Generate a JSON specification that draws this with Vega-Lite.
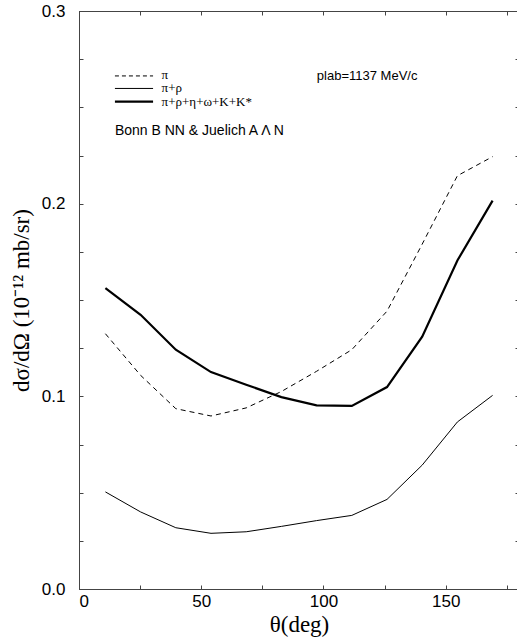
{
  "$schema": "https://vega.github.io/schema/vega-lite/v6.json",
  "width": 440,
  "height": 578,
  "autosize": {"type": "none"},
  "padding": {"left": 79, "top": 11, "right": 0, "bottom": 54},
  "background": "white",
  "config": {
    "view": {"stroke": "#444", "strokeWidth": 1},
    "axis": {"grid": false, "domainColor": "#444", "tickColor": "#444", "labelFont": "Liberation Sans", "labelColor": "black", "titleFont": "Liberation Serif", "titleFontWeight": "normal", "titleColor": "black"}
  },
  "datasets": {
    "curves": [
      {"theta": 10.8, "value": 0.1325, "series": "pi"},
      {"theta": 25.2, "value": 0.1109, "series": "pi"},
      {"theta": 39.6, "value": 0.0936, "series": "pi"},
      {"theta": 54.0, "value": 0.0898, "series": "pi"},
      {"theta": 68.4, "value": 0.0940, "series": "pi"},
      {"theta": 82.8, "value": 0.1025, "series": "pi"},
      {"theta": 97.2, "value": 0.1130, "series": "pi"},
      {"theta": 111.6, "value": 0.1242, "series": "pi"},
      {"theta": 126.0, "value": 0.1442, "series": "pi"},
      {"theta": 140.4, "value": 0.1790, "series": "pi"},
      {"theta": 154.8, "value": 0.2145, "series": "pi"},
      {"theta": 169.2, "value": 0.2244, "series": "pi"},
      {"theta": 10.8, "value": 0.0504, "series": "pirho"},
      {"theta": 25.2, "value": 0.0400, "series": "pirho"},
      {"theta": 39.6, "value": 0.0318, "series": "pirho"},
      {"theta": 54.0, "value": 0.0289, "series": "pirho"},
      {"theta": 68.4, "value": 0.0297, "series": "pirho"},
      {"theta": 82.8, "value": 0.0325, "series": "pirho"},
      {"theta": 97.2, "value": 0.0355, "series": "pirho"},
      {"theta": 111.6, "value": 0.0382, "series": "pirho"},
      {"theta": 126.0, "value": 0.0465, "series": "pirho"},
      {"theta": 140.4, "value": 0.0643, "series": "pirho"},
      {"theta": 154.8, "value": 0.0867, "series": "pirho"},
      {"theta": 169.2, "value": 0.1005, "series": "pirho"},
      {"theta": 10.8, "value": 0.1561, "series": "full"},
      {"theta": 25.2, "value": 0.1423, "series": "full"},
      {"theta": 39.6, "value": 0.1242, "series": "full"},
      {"theta": 54.0, "value": 0.1126, "series": "full"},
      {"theta": 68.4, "value": 0.1060, "series": "full"},
      {"theta": 82.8, "value": 0.0996, "series": "full"},
      {"theta": 97.2, "value": 0.0953, "series": "full"},
      {"theta": 111.6, "value": 0.0950, "series": "full"},
      {"theta": 126.0, "value": 0.1048, "series": "full"},
      {"theta": 140.4, "value": 0.1310, "series": "full"},
      {"theta": 154.8, "value": 0.1705, "series": "full"},
      {"theta": 169.2, "value": 0.2016, "series": "full"}
    ],
    "legendlines": [
      {"theta": 14.7, "value": 0.2663, "series": "pi"},
      {"theta": 30.3, "value": 0.2663, "series": "pi"},
      {"theta": 14.7, "value": 0.2598, "series": "pirho"},
      {"theta": 30.3, "value": 0.2598, "series": "pirho"},
      {"theta": 14.7, "value": 0.2530, "series": "full"},
      {"theta": 30.3, "value": 0.2530, "series": "full"}
    ],
    "legendtext": [
      {"theta": 33.8, "value": 0.2668, "label": "π"},
      {"theta": 33.8, "value": 0.2598, "label": "π+ρ"},
      {"theta": 33.8, "value": 0.2530, "label": "π+ρ+η+ω+K+K*"}
    ],
    "notes": [
      {"theta": 97.3, "value": 0.2663, "label": "plab=1137 MeV/c", "size": 13},
      {"theta": 14.7, "value": 0.2378, "label": "Bonn B NN & Juelich A Λ N", "size": 14}
    ]
  },
  "resolve": {"axis": {"x": "independent", "y": "independent"}},
  "layer": [
    {
      "data": {"name": "curves"},
      "transform": [{"filter": "datum.series == 'pi'"}],
      "mark": {"type": "line", "color": "black", "strokeWidth": 1, "strokeDash": [5, 4]},
      "encoding": {
        "x": {"field": "theta", "type": "quantitative", "scale": {"domain": [0, 180], "nice": false},
          "axis": {"orient": "bottom", "title": "θ(deg)", "titleFontSize": 23, "titlePadding": 4, "labelFontSize": 17, "labelPadding": 8, "tickSize": -4,
            "values": [0, 25, 50, 75, 100, 125, 150, 175],
            "labelExpr": "datum.value % 50 == 0 ? datum.label : ''"}},
        "y": {"field": "value", "type": "quantitative", "scale": {"domain": [0, 0.3], "nice": false},
          "axis": {"orient": "left", "title": "dσ/dΩ (10⁻¹² mb/sr)", "titleFontSize": 23, "titlePadding": 8, "labelFontSize": 17, "labelPadding": 18, "tickSize": -4,
            "values": [0, 0.025, 0.05, 0.075, 0.1, 0.125, 0.15, 0.175, 0.2, 0.225, 0.25, 0.275, 0.3],
            "labelExpr": "round(datum.value * 1000) % 100 == 0 ? format(datum.value, '.1f') : ''"}}
      }
    },
    {
      "data": {"name": "curves"},
      "transform": [{"filter": "datum.series == 'pirho'"}],
      "mark": {"type": "line", "color": "black", "strokeWidth": 1},
      "encoding": {
        "x": {"field": "theta", "type": "quantitative",
          "axis": {"orient": "top", "title": null, "labels": false, "tickSize": -4, "values": [0, 25, 50, 75, 100, 125, 150, 175]}},
        "y": {"field": "value", "type": "quantitative",
          "axis": {"orient": "right", "title": null, "labels": false, "tickSize": -4, "values": [0, 0.025, 0.05, 0.075, 0.1, 0.125, 0.15, 0.175, 0.2, 0.225, 0.25, 0.275, 0.3]}}
      }
    },
    {
      "data": {"name": "curves"},
      "transform": [{"filter": "datum.series == 'full'"}],
      "mark": {"type": "line", "color": "black", "strokeWidth": 2.2},
      "encoding": {
        "x": {"field": "theta", "type": "quantitative", "axis": null},
        "y": {"field": "value", "type": "quantitative", "axis": null}
      }
    },
    {
      "data": {"name": "legendlines"},
      "transform": [{"filter": "datum.series == 'pi'"}],
      "mark": {"type": "line", "color": "black", "strokeWidth": 1, "strokeDash": [4, 3]},
      "encoding": {
        "x": {"field": "theta", "type": "quantitative", "axis": null},
        "y": {"field": "value", "type": "quantitative", "axis": null}
      }
    },
    {
      "data": {"name": "legendlines"},
      "transform": [{"filter": "datum.series == 'pirho'"}],
      "mark": {"type": "line", "color": "black", "strokeWidth": 1},
      "encoding": {
        "x": {"field": "theta", "type": "quantitative", "axis": null},
        "y": {"field": "value", "type": "quantitative", "axis": null}
      }
    },
    {
      "data": {"name": "legendlines"},
      "transform": [{"filter": "datum.series == 'full'"}],
      "mark": {"type": "line", "color": "black", "strokeWidth": 2.2},
      "encoding": {
        "x": {"field": "theta", "type": "quantitative", "axis": null},
        "y": {"field": "value", "type": "quantitative", "axis": null}
      }
    },
    {
      "data": {"name": "legendtext"},
      "mark": {"type": "text", "align": "left", "baseline": "middle", "font": "Liberation Serif", "fontSize": 13, "color": "black"},
      "encoding": {
        "x": {"field": "theta", "type": "quantitative", "axis": null},
        "y": {"field": "value", "type": "quantitative", "axis": null},
        "text": {"field": "label"}
      }
    },
    {
      "data": {"name": "notes"},
      "mark": {"type": "text", "align": "left", "baseline": "middle", "font": "Liberation Sans", "color": "black"},
      "encoding": {
        "x": {"field": "theta", "type": "quantitative", "axis": null},
        "y": {"field": "value", "type": "quantitative", "axis": null},
        "text": {"field": "label"},
        "size": {"field": "size", "type": "quantitative", "scale": null, "legend": null}
      }
    }
  ]
}
